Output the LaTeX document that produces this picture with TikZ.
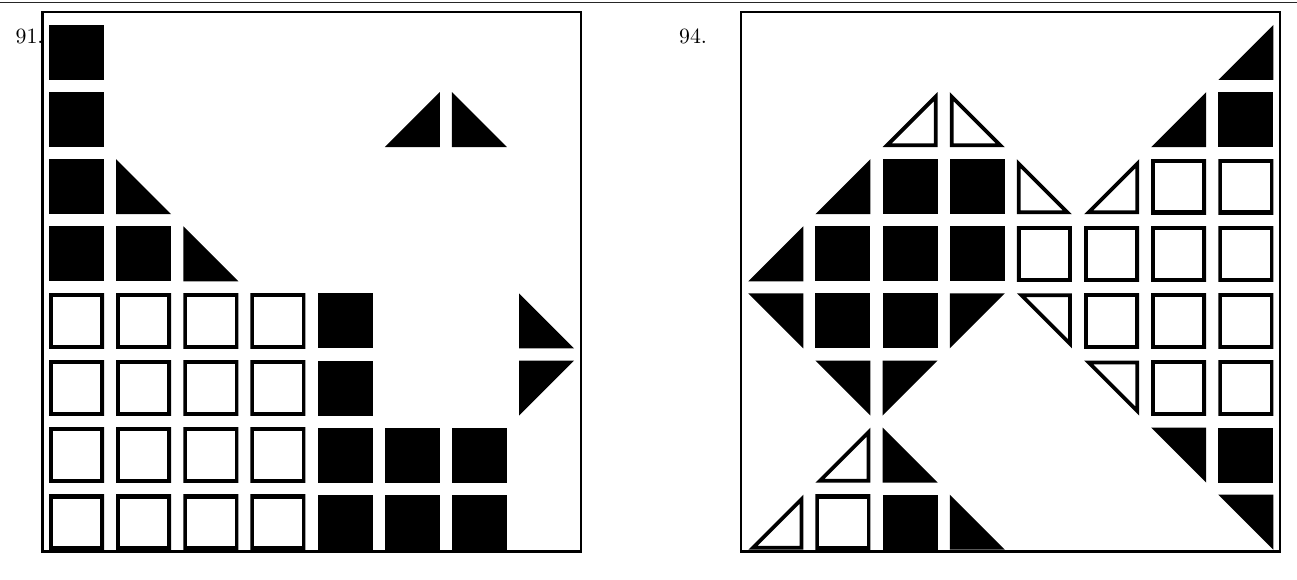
\documentclass[tikz,border=0pt]{standalone}
\usepackage{tikz}
\font\labfont=cmr10 at 21.8pt
\def\pathsq{(0,0) -- (55,0) -- (55,55) -- (0,55) -- cycle}
\def\pathll{(0,0) -- (0,55) -- (55,55) -- cycle}
\def\pathlr{(55,0) -- (55,55) -- (0,55) -- cycle}
\def\pathul{(0,0) -- (55,0) -- (0,55) -- cycle}
\def\pathur{(0,0) -- (55,0) -- (55,55) -- cycle}
% #1 panel x0, #2 col, #3 row, #4 kind
\newcommand\blackcell[4]{%
  \pgfmathsetmacro\cellx{#1+67.15*#2}%
  \pgfmathsetmacro\celly{25+67.1*#3}%
  \begin{scope}[shift={(\cellx,\celly)}]
    \expandafter\fill\csname path#4\endcsname;
  \end{scope}}
\newcommand\opencell[4]{%
  \pgfmathsetmacro\cellx{#1+67.15*#2}%
  \pgfmathsetmacro\celly{25+67.1*#3}%
  \begin{scope}[shift={(\cellx,\celly)}]
    \expandafter\clip\csname path#4\endcsname;
    \expandafter\draw\csname path#4\endcsname;
  \end{scope}}
\begin{document}
\begin{tikzpicture}[x=1pt,y=-1pt,line width=7.6pt,line join=miter]
\useasboundingbox (0,0) rectangle (1297,580);
\fill[white] (0,0) rectangle (1297,580);
\coordinate (ruleL) at (0,2.6);
\coordinate (ruleR) at (1297,2.6);
\draw[line width=1.4pt,black!85] (ruleL) -- (ruleR);
\tikzset{frame/.style={draw,line width=2.6pt,line join=miter},
  labelstyle/.style={anchor=base west,inner sep=0pt,font=\labfont}}
\path[frame] (42.5,12) rectangle (581,551.3);
\path[frame] (741,12) rectangle (1280,551.3);
\node[labelstyle] (lab91) at (11.8,43.3) {91.};
\node[labelstyle] (lab94) at (675.3,43.3) {94.};
% left panel
\def\XL{49}
\foreach \c/\r in {0/0,0/1,0/2,0/3,1/3,4/4,4/5,4/6,5/6,6/6,4/7,5/7,6/7}
  {\blackcell{\XL}{\c}{\r}{sq}}
\foreach \c/\r/\k in {5/1/lr,6/1/ll,1/2/ll,2/3/ll,7/4/ll,7/5/ul}
  {\blackcell{\XL}{\c}{\r}{\k}}
\foreach \c in {0,1,2,3}
  \foreach \r in {4,5,6,7}
    {\opencell{\XL}{\c}{\r}{sq}}
% right panel
\def\XR{748.3}
\foreach \c/\r in {7/1,2/2,3/2,1/3,2/3,3/3,1/4,2/4,7/6,2/7}
  {\blackcell{\XR}{\c}{\r}{sq}}
\foreach \c/\r/\k in {7/0/lr,6/1/lr,1/2/lr,0/3/lr,0/4/ur,3/4/ul,1/5/ur,2/5/ul,2/6/ll,6/6/ur,3/7/ll,7/7/ur}
  {\blackcell{\XR}{\c}{\r}{\k}}
\foreach \c/\r in {6/2,7/2,4/3,5/3,6/3,7/3,5/4,6/4,7/4,6/5,7/5,1/7}
  {\opencell{\XR}{\c}{\r}{sq}}
\foreach \c/\r/\k in {2/1/lr,3/1/ll,4/2/ll,5/2/lr,4/4/ur,5/5/ur,1/6/lr,0/7/lr}
  {\opencell{\XR}{\c}{\r}{\k}}
\end{tikzpicture}
\end{document}
